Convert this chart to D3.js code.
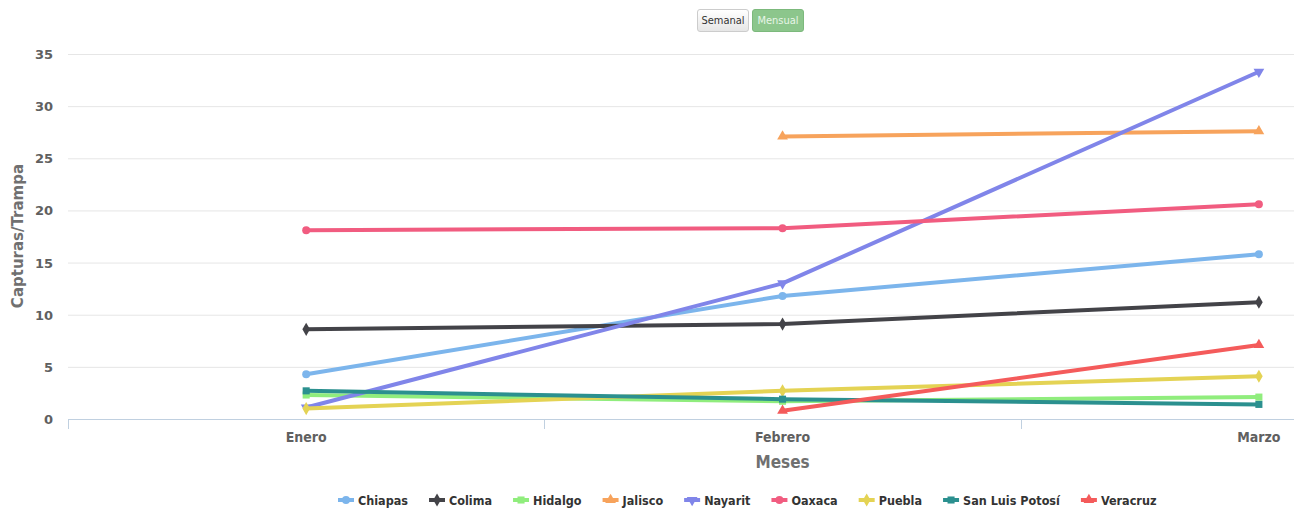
<!DOCTYPE html>
<html>
<head>
<meta charset="utf-8">
<script src="https://cdn.jsdelivr.net/npm/d3@7/dist/d3.min.js"></script>
<style>
  body { margin:0; background:#fff; }
  .btn { position:absolute; top:9px; height:23px; font:11px "DejaVu Sans Condensed",sans-serif; border-radius:3px; box-sizing:border-box; text-align:center; line-height:21px; }
</style>
</head>
<body>
<div class="btn" style="left:697px;width:52px;border:1px solid #ccc;background:linear-gradient(#fff,#e6e6e6);color:#333;">Semanal</div>
<div class="btn" style="left:752px;width:52px;border:1px solid #7cb97c;background:#8cc68c;color:#e8f5e8;">Mensual</div>
<script>
// datos mensuales, capturas por trampa
var meses = ["Enero","Febrero","Marzo"];
var estados = ["Chiapas","Colima","Hidalgo","Jalisco","Nayarit","Oaxaca","Puebla","San Luis Potosí","Veracruz"];
var colores = ["#7cb5ec","#434348","#90ed7d","#f7a35c","#8085e9","#f15c80","#e4d354","#2b908f","#f45b5b"];
var simbolos = ["circle","diamond","square","triangle","triangle-down","circle","diamond","square","triangle"];
var chiapas = [4.3, 11.8, 15.8];
var colima = [8.6, 9.1, 11.2];
var hidalgo = [2.3, 1.7, 2.1];
var jalisco = [null, 27.1, 27.6];
var nayarit = [1.1, 13.0, 33.3];
var oaxaca = [18.1, 18.3, 20.6];
var puebla = [1.0, 2.7, 4.1];
var slp = [2.7, 1.9, 1.4];
var veracruz = [null, 0.8, 7.1];
var yTicks = [0,5,10,15,20,25,30,35];

var series = [chiapas,colima,hidalgo,jalisco,nayarit,oaxaca,puebla,slp,veracruz];

var width = 1294, height = 508;
var svg = d3.select("body").append("svg").attr("width",width).attr("height",height)
  .style("position","absolute").style("left",0).style("top",0).style("z-index",-1);

var x = d3.scaleLinear().domain([-0.5, 2.08]).range([68, 1297]);
var y = d3.scaleLinear().domain([0,35]).range([419,54]);

// grid
svg.append("g").selectAll("line").data(yTicks.slice(1)).enter().append("line")
  .attr("x1",68).attr("x2",1297)
  .attr("y1",function(d){ return y(d)+0.5; }).attr("y2",function(d){ return y(d)+0.5; })
  .attr("stroke","#e6e6e6");

svg.append("g").selectAll("text").data(yTicks).enter().append("text")
  .attr("x",53).attr("y",function(d){ return y(d)+5; })
  .attr("text-anchor","end")
  .style("font","bold 13px 'DejaVu Sans'").style("fill","#606060")
  .text(function(d){ return d; });

// x axis
svg.append("line").attr("x1",68).attr("x2",1297).attr("y1",419.5).attr("y2",419.5).attr("stroke","#c0d0e0");
svg.append("g").selectAll("line").data([-0.5,0.5,1.5]).enter().append("line")
  .attr("x1",function(d){ return Math.round(x(d))+0.5; }).attr("x2",function(d){ return Math.round(x(d))+0.5; })
  .attr("y1",419).attr("y2",429).attr("stroke","#c0d0e0");
svg.append("g").selectAll("text").data(meses).enter().append("text")
  .attr("x",function(d,i){ return x(i); }).attr("y",442)
  .attr("text-anchor","middle")
  .style("font","bold 14px 'DejaVu Sans Condensed'").style("fill","#606060")
  .text(function(d){ return d; });

svg.append("text").attr("x",x(1)).attr("y",468).attr("text-anchor","middle")
  .style("font","bold 17px 'DejaVu Sans Condensed'").style("fill","#707070").text("Meses");
svg.append("text").attr("transform","translate(23,236) rotate(-90)").attr("text-anchor","middle")
  .style("font","bold 15px 'DejaVu Sans'").style("fill","#707070").text("Capturas/Trampa");

var symType = {"circle":d3.symbolCircle,"diamond":d3.symbolDiamond,"square":d3.symbolSquare,"triangle":d3.symbolTriangle,"triangle-down":d3.symbolTriangle};
function marker(g, s, c, cx, cy, size){
  var p = g.append("path").attr("d", d3.symbol().type(symType[s]).size(size)())
    .attr("fill",c);
  var rot = s=="triangle-down" ? " rotate(180)" : "";
  p.attr("transform","translate("+cx+","+cy+")"+rot);
}

var line = d3.line().defined(function(d){ return d!=null; })
  .x(function(d,i){ return x(i); }).y(function(d){ return y(d); });

series.forEach(function(s,k){
  var g = svg.append("g");
  g.append("path").attr("d",line(s)).attr("fill","none").attr("stroke",colores[k])
    .attr("stroke-width",4).attr("stroke-linejoin","round").attr("stroke-linecap","round");
  s.forEach(function(v,i){
    if(v==null) return;
    marker(g, simbolos[k], colores[k], x(i), y(v), 50);
  });
});

// legend
var leg = svg.append("g");
var lx = 338;
estados.forEach(function(e,k){
  var item = leg.append("g").attr("transform","translate("+lx+",500)");
  item.append("line").attr("x1",0).attr("x2",16).attr("y1",0).attr("y2",0).attr("stroke",colores[k]).attr("stroke-width",4);
  marker(item, simbolos[k], colores[k], 8, 0, 50);
  var t = item.append("text").attr("x",20).attr("y",4.5)
    .style("font","bold 12.5px 'DejaVu Sans Condensed'").style("fill","#333").text(e);
  lx += 20 + t.node().getComputedTextLength() + 21;
});
</script>
</body>
</html>
